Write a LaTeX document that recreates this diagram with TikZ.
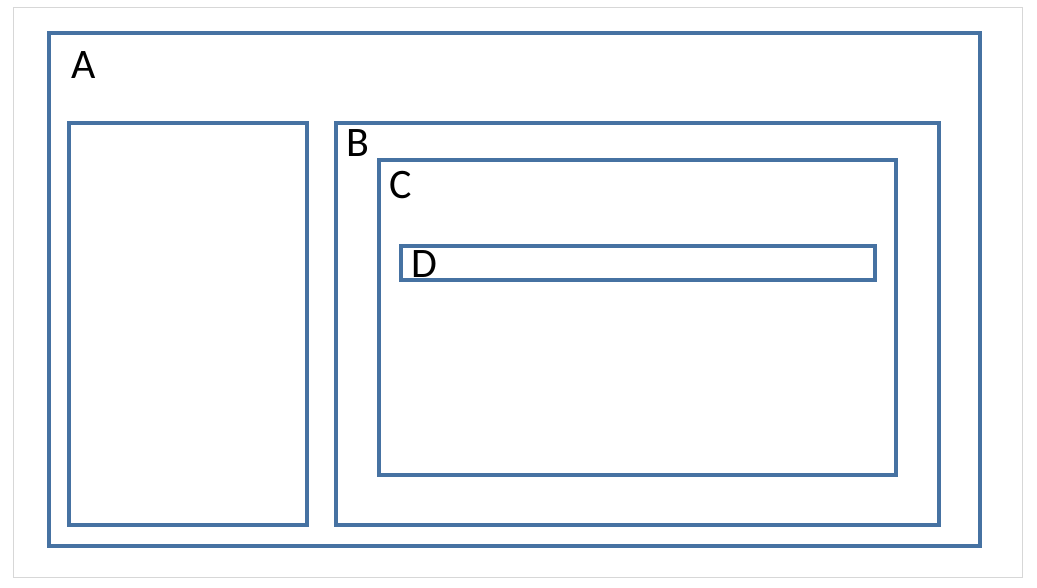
\documentclass[tikz,border=0pt]{standalone}
\usepackage{fontspec}
\setmainfont{Carlito}
\definecolor{boxblue}{RGB}{70,114,162}
\definecolor{framegrey}{RGB}{215,215,215}
\begin{document}
\begin{tikzpicture}[x=1pt,y=-1pt,
  box/.style={draw=boxblue,line width=3.5pt},
  lbl/.style={font=\fontsize{42}{42}\selectfont,inner sep=0pt,text=black}]
\useasboundingbox (0,0) rectangle (1037,588);
\fill[white] (0,0) rectangle (1037,588);
\draw[framegrey,line width=1pt] (13,8) rectangle (1022,577);
\draw[box] (49,33) rectangle (980,546);
\draw[box] (69,123) rectangle (307,525);
\draw[box] (336,123) rectangle (939,525);
\draw[box] (379,160) rectangle (896,475);
\draw[box] (401,246) rectangle (875,280);
\node[lbl] (la) at (84,65) {A};
\node[lbl] (lb) at (358,143) {B};
\node[lbl] (lc) at (401,185) {C};
\node[lbl] (ld) at (424,264) {D};
\end{tikzpicture}
\end{document}
